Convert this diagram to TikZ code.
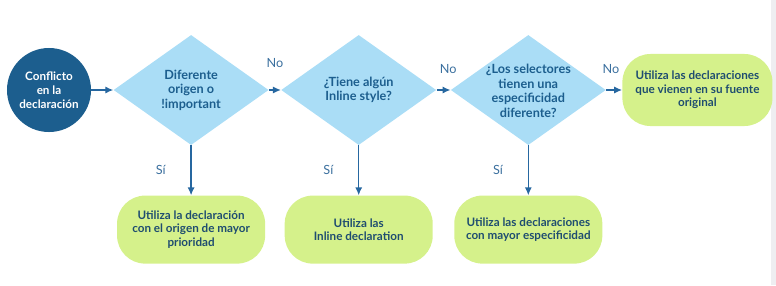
\documentclass[tikz,border=0pt]{standalone}
\usepackage{fontspec}
\setmainfont{Lato}
\usetikzlibrary{arrows.meta, positioning, shapes.geometric}
\definecolor{flowdark}{HTML}{1C5E8E}
\definecolor{flowsky}{HTML}{AADDF6}
\definecolor{flowlime}{HTML}{D5F18B}
\definecolor{flowink}{HTML}{1F4D70}
\definecolor{flowline}{HTML}{2667A0}
\definecolor{flowlabel}{HTML}{3A6F9E}
\definecolor{flowstrip}{HTML}{EEEEF1}

\begin{document}
\begin{tikzpicture}[x=0.025cm, y=-0.025cm,
    start/.style={circle, fill=flowdark, minimum size=2.1cm, inner sep=0pt,
                align=center, text=white,
                font=\fontsize{8.3}{10}\selectfont\bfseries},
    ask/.style={diamond, fill=flowsky, minimum width=3.875cm, minimum height=2.75cm,
                inner sep=0pt, align=center, text=flowdark,
                font=\fontsize{9}{10.4}\selectfont\bfseries},
    act/.style={rectangle, rounded corners=0.7cm, fill=flowlime,
                minimum width=3.7cm, minimum height=1.7cm, align=center,
                text=flowink, font=\fontsize{8.3}{9.6}\selectfont\bfseries},
    arr/.style={-{Latex[length=2mm, width=1.8mm]}, line width=1pt, color=flowline},
    lbl/.style={font=\fontsize{9}{10}\selectfont, text=flowlabel}
  ]
    \useasboundingbox (0,0) rectangle (776,285);
    \fill[flowstrip] (771,0) rectangle (776,285);

    \node[start] (conf) at (49,90) {Conflicto\\en la\\declaración};
    \node[ask, right=0.55cm of conf] (orig) {Diferente\\origen o\\!important};
    \node[ask, right=0.3cm of orig]  (inl)  {¿Tiene algún\\Inline style?};
    % four lines would blow the diamond up, so the text is smashed
    \node[ask, right=0.35cm of inl]  (spec)
        {\smash{\raisebox{-4pt}{\begin{tabular}{@{}c@{}}¿Los selectores\\tienen una\\especificidad\\diferente?\end{tabular}}}};
    \node[act, right=0.4cm of spec, minimum width=3.75cm, minimum height=1.8cm] (src)
        {Utiliza las declaraciones\\que vienen en su fuente\\original};

    \node[act, below=1.25cm of orig] (useorig) {Utiliza la declaración\\con el origen de mayor\\prioridad};
    \node[act, below=1.25cm of inl]  (useinl)  {Utiliza las\\Inline declaration};
    \node[act, below=1.25cm of spec] (usespec) {Utiliza las declaraciones\\con mayor especificidad};

    \draw[arr] (conf) -- (orig);
    \draw[arr] (orig.east) -- node[lbl, above=0.42cm] (no1) {No} (inl.west);
    \draw[arr] (inl.east)  -- node[lbl, above=0.28cm, xshift=0.12cm] (no2) {No} (spec.west);
    \draw[arr] (spec.east) -- node[lbl, above=0.28cm, xshift=-0.08cm] (no3) {No} (src.west);

    \draw[arr] (orig.south) -- node[lbl, left=0.5cm] (si1) {Sí} (useorig.north);
    \draw[arr] (inl.south)  -- node[lbl, left=0.5cm] (si2) {Sí} (useinl.north);
    \draw[arr] (spec.south) -- node[lbl, left=0.5cm] (si3) {Sí} (usespec.north);
  \end{tikzpicture}
\end{document}
